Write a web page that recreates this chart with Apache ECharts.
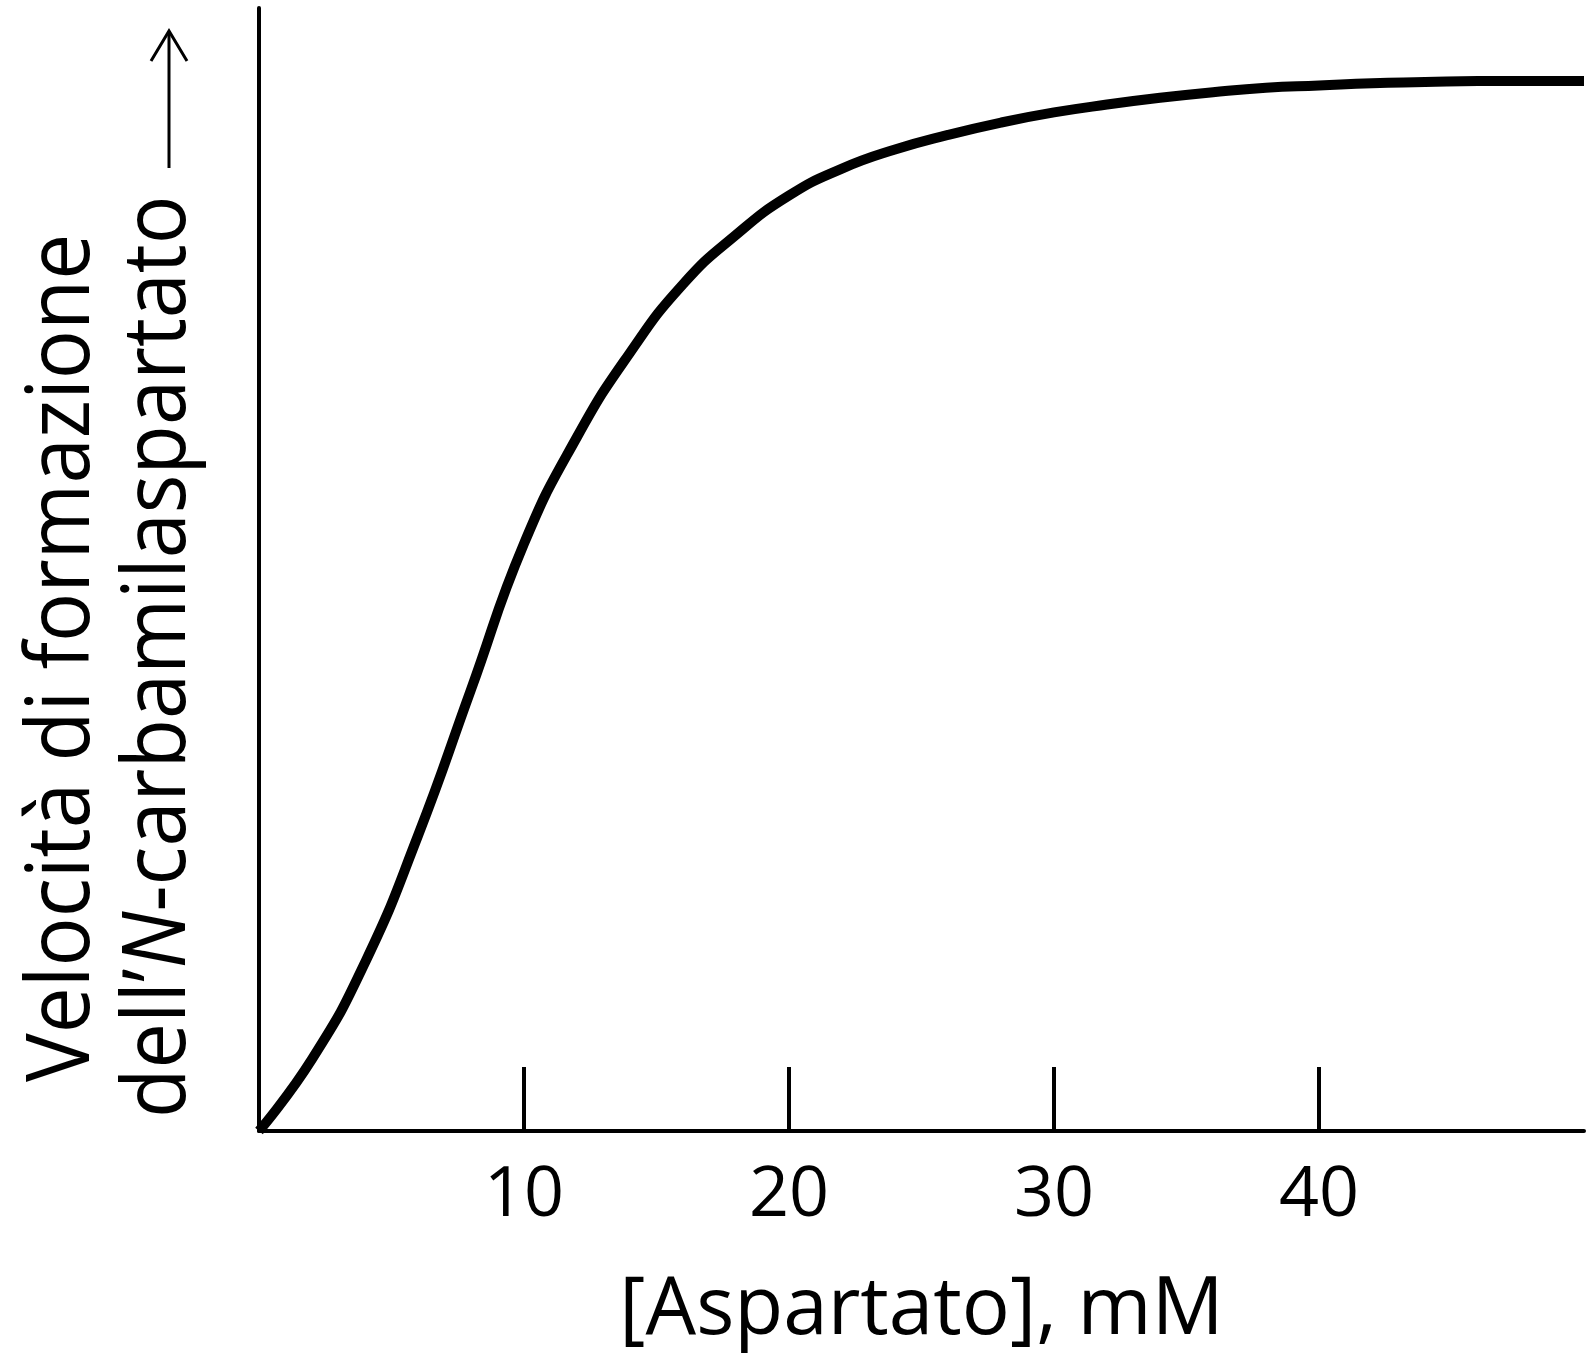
<!DOCTYPE html>
<html>
<head>
<meta charset="utf-8">
<script src="https://cdn.jsdelivr.net/npm/echarts@6/dist/echarts.min.js"></script>
<style>
html,body{margin:0;padding:0;background:#fff;}
#chart{width:1586px;height:1366px;}
</style>
</head>
<body>
<div id="chart"></div>
<script>
// Data
const aspartate = [0, 2, 4, 6, 8, 10, 12, 14, 16, 18, 20, 22, 24, 26, 28, 30, 32, 34, 36, 38, 40, 42, 44, 46, 48, 50];
const rate = [0, 6.4, 15.0, 26.3, 39.3, 52.3, 61.8, 69.3, 75.4, 79.8, 83.3, 85.7, 87.4, 88.7, 89.8, 90.7, 91.4, 92.0, 92.5, 92.9, 93.1, 93.3, 93.4, 93.5, 93.5, 93.5];
const xTickValues = [10, 20, 30, 40];
const xAxisTitle = '[Aspartato], mM';
const yTitleLine1 = 'Velocità di formazione';
const yTitleLine2a = 'dell’';
const yTitleLine2b = 'N';
const yTitleLine2c = '-carbamilaspartato';

const FONT = '"Open Sans", "Noto Sans", sans-serif';
const chart = echarts.init(document.getElementById('chart'), null, {renderer: 'canvas'});

const seriesData = aspartate.map((x, i) => [x, rate[i]]);

chart.setOption({
  animation: false,
  backgroundColor: '#ffffff',
  grid: {left: 259, right: 2, top: 8, bottom: 235, containLabel: false},
  xAxis: {
    type: 'value',
    min: 0, max: 50, interval: 10,
    name: xAxisTitle,
    nameLocation: 'middle',
    nameGap: 140,
    nameTextStyle: {fontFamily: FONT, fontSize: 80, color: '#000'},
    axisLine: {show: true, onZero: false, lineStyle: {color: '#000', width: 4}},
    axisTick: {show: true, inside: true, length: 64, customValues: xTickValues, lineStyle: {color: '#000', width: 4}},
    axisLabel: {show: true, customValues: xTickValues, margin: 30, fontFamily: FONT, fontSize: 70, color: '#000'},
    splitLine: {show: false}
  },
  yAxis: {
    type: 'value',
    min: 0, max: 100,
    axisLine: {show: true, onZero: false, lineStyle: {color: '#000', width: 4}},
    axisTick: {show: false},
    axisLabel: {show: false},
    splitLine: {show: false}
  },
  series: [{
    type: 'line',
    data: seriesData,
    smooth: 0.5,
    showSymbol: false,
    symbol: 'none',
    clip: false,
    lineStyle: {color: '#000', width: 10}
  }],
  graphic: [
    {
      type: 'text', x: 64, y: 1082, rotation: Math.PI / 2, scaleX: 0.93,
      style: {text: yTitleLine1, fontFamily: FONT, fontSize: 88, fill: '#000', align: 'left', verticalAlign: 'middle'}
    },
    {
      type: 'text', x: 160, y: 1118, rotation: Math.PI / 2, scaleX: 0.92,
      style: {
        text: '{a|' + yTitleLine2a + '}{b|' + yTitleLine2b + '}{a|' + yTitleLine2c + '}',
        align: 'left', verticalAlign: 'middle',
        rich: {
          a: {fontFamily: FONT, fontSize: 88, fill: '#000', color: '#000'},
          b: {fontFamily: FONT, fontSize: 88, fontStyle: 'italic', fill: '#000', color: '#000'}
        }
      }
    },
    {type: 'line', shape: {x1: 169, y1: 168, x2: 169, y2: 31}, style: {stroke: '#000', lineWidth: 3}},
    {type: 'polyline', shape: {points: [[151, 61], [169, 31], [187, 61]]}, style: {stroke: '#000', lineWidth: 3, fill: null}}
  ]
});
</script>
</body>
</html>
